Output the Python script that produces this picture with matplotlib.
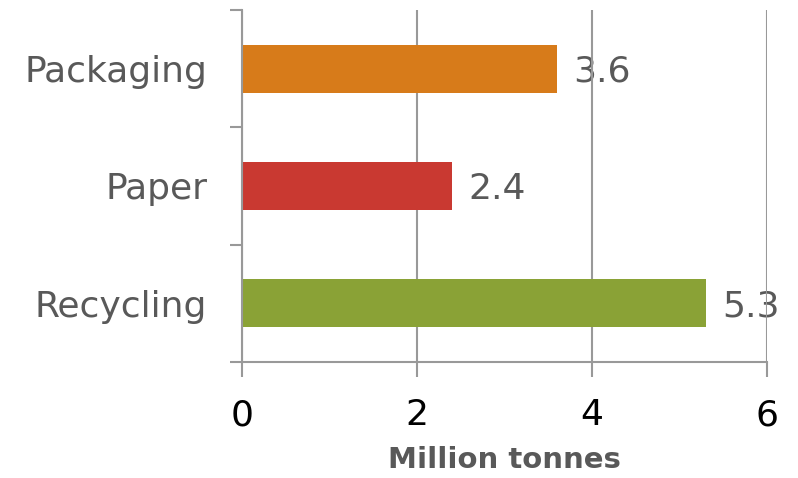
import matplotlib
matplotlib.use('Agg')
import matplotlib.pyplot as plt

categories = ["Packaging", "Paper", "Recycling"]
values = [3.6, 2.4, 5.3]
colors = ["#D77B1A", "#C93931", "#8AA236"]

grey = "#999999"
text_grey = "#595959"

fig = plt.figure(figsize=(7.98, 4.78), dpi=100)
ax = fig.add_axes([242 / 798, (478 - 362) / 478, (767 - 242) / 798, 352 / 478])

pos = list(range(len(categories)))[::-1]  # Packaging on top
ax.barh(pos, values, height=0.41, color=colors, zorder=2)

for p, v in zip(pos, values):
    ax.annotate(f"{v:.1f}", (v, p), xytext=(12, -2), textcoords="offset points",
                va="center", ha="left", fontsize=26, color=text_grey, zorder=0.3)

ax.set_xlim(0, 6)
ax.set_ylim(-0.5, 2.5)
ax.set_xticks([0, 2, 4, 6])
ax.set_axisbelow(True)
ax.grid(axis="x", color=grey, linewidth=1.5)

ax.set_yticks(pos)
ax.set_yticklabels(categories)
ax.set_yticks([-0.5, 0.5, 1.5, 2.5], minor=True)
ax.tick_params(axis="y", which="major", length=0, pad=25, labelsize=26, labelcolor=text_grey)
ax.tick_params(axis="y", which="minor", length=9, width=1.5, color=grey)
ax.tick_params(axis="x", length=11, width=1.5, color=grey, labelsize=26, pad=15)

for s in ["top", "right"]:
    ax.spines[s].set_visible(False)
for s in ["left", "bottom"]:
    ax.spines[s].set_color(grey)
    ax.spines[s].set_linewidth(1.5)

ax.set_xlabel("Million tonnes", fontsize=21, fontweight="bold", color=text_grey, labelpad=10)

fig.savefig("out.png", dpi=100)
